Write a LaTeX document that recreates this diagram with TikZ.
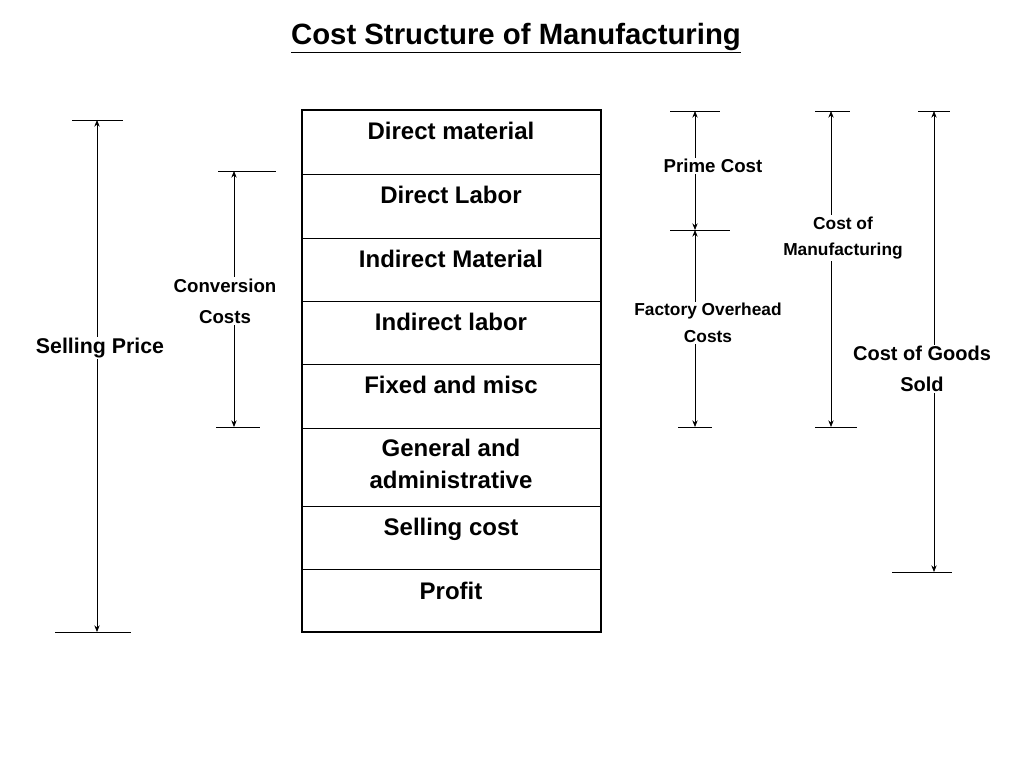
\documentclass[tikz,border=0pt]{standalone}
\usepackage{fontspec}
\setmainfont{Liberation Sans}
\usetikzlibrary{arrows.meta}
\begin{document}
\begin{tikzpicture}[x=0.75pt,y=-0.75pt,
  dim/.style={{Stealth[length=5pt,width=4pt]}-{Stealth[length=5pt,width=4pt]},line width=0.6pt},
  tick/.style={line width=0.6pt},
  cell/.style={font=\bfseries\fontsize{18}{20}\selectfont,align=center,anchor=north},
  lab/.style={font=\bfseries\fontsize{16}{18}\selectfont,align=center},
  labs/.style={font=\bfseries\fontsize{14}{16}\selectfont,align=center}]
\useasboundingbox (0,0) rectangle (1024,768);
\node[font=\bfseries\fontsize{22}{24}\selectfont] (title) at (516,38) {\underline{Cost Structure of Manufacturing}};
\draw[line width=1.5pt] (302,110) rectangle (601,632);
\foreach \y in {174,238,301,364,428,506,569} \draw[line width=0.6pt] (302,\y) -- (601,\y);
\node[cell] (r1) at (451,117) {Direct material};
\node[cell] (r2) at (451,181) {Direct Labor};
\node[cell] (r3) at (451,245) {Indirect Material};
\node[cell] (r4) at (451,308) {Indirect labor};
\node[cell] (r5) at (451,371) {Fixed and misc};
\node[cell,font=\bfseries\fontsize{18}{24}\selectfont] (r6) at (451,434) {General and\\administrative};
\node[cell] (r7) at (451,513) {Selling cost};
\node[cell] (r8) at (451,577) {Profit};
% Selling price
\coordinate (sp1) at (97,120); \coordinate (sp2) at (97,632);
\draw[tick] (72,120) -- (123,120); \draw[tick] (55,632) -- (131,632);
\draw[dim] (sp1) -- (sp2);
\node[lab,fill=white,inner sep=1pt] (spl) at (100,348) {Selling Price};
% Conversion
\coordinate (cc1) at (234,171); \coordinate (cc2) at (234,427);
\draw[tick] (218,171) -- (276,171); \draw[tick] (216,427) -- (260,427);
\draw[dim] (cc1) -- (cc2);
\node[labs,font=\bfseries\fontsize{14}{23}\selectfont,fill=white,inner sep=1pt] (ccl) at (225,301) {Conversion\\Costs};
% Prime / factory
\coordinate (pc1) at (695,111); \coordinate (pc2) at (695,230); \coordinate (fo2) at (695,427);
\draw[tick] (670,111) -- (720,111); \draw[tick] (670,230) -- (730,230); \draw[tick] (678,427) -- (712,427);
\draw[dim] (pc1) -- (pc2); \draw[dim] (pc2) -- (fo2);
\node[labs,fill=white,inner sep=1pt] (pcl) at (713,166) {Prime Cost};
\node[font=\bfseries\fontsize{13}{20}\selectfont,align=center,fill=white,inner sep=1pt] (fol) at (708,323) {Factory Overhead\\Costs};
% Cost of manufacturing
\coordinate (cm1) at (831,111); \coordinate (cm2) at (831,427);
\draw[tick] (815,111) -- (850,111); \draw[tick] (815,427) -- (857,427);
\draw[dim] (cm1) -- (cm2);
\node[font=\bfseries\fontsize{13}{20}\selectfont,align=center,fill=white,inner sep=1pt] (cml) at (843,238) {Cost of\\Manufacturing};
% COGS
\coordinate (cg1) at (934,111); \coordinate (cg2) at (934,572);
\draw[tick] (918,111) -- (950,111); \draw[tick] (892,572) -- (952,572);
\draw[dim] (cg1) -- (cg2);
\node[labs,font=\bfseries\fontsize{15}{23}\selectfont,fill=white,inner sep=1pt] (cgl) at (922,369) {Cost of Goods\\Sold};
\end{tikzpicture}
\end{document}
